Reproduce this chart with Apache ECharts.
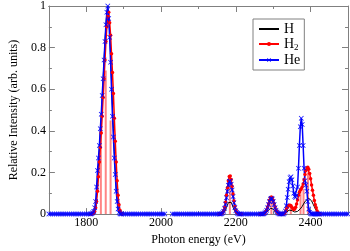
<!DOCTYPE html>
<html>
<head>
<meta charset="utf-8">
<script src="https://cdn.jsdelivr.net/npm/echarts@6/dist/echarts.min.js"></script>
<style>
html,body{margin:0;padding:0;background:#fff;}
#chart{width:350px;height:251px;}
</style>
</head>
<body>
<div id="chart"></div>
<script>
// ---- energies (eV) ----
const energyBaseA = [1700,1705,1710,1715,1720,1725,1730,1735,1740,1745,1750,1755,1760,1765,1770,1775,1780,1785,1790,1795,1800,1805,1810];
const energyMain = [1812.5,1815,1817.5,1820,1822.5,1825,1827.5,1830,1832.5,1835,1837.5,1840,1842.5,1845,1847.5,1850,1852.5,1855,1857.5,1860,1862.5,1865,1867.5,1870,1872.5,1875,1877.5,1880,1882.5,1885,1887.5,1890,1892.5,1895];
const energyBaseB = [1900,1905,1910,1915,1920,1925,1930,1935,1940,1945,1950,1955,1960,1965,1970,1975,1980,1985,1990,1995,2000,2005,2010];
const energyBaseC = [2030,2035,2040,2045,2050,2055,2060,2065,2070,2075,2080,2085,2090,2095,2100,2105,2110,2115,2120,2125,2130,2135,2140,2145,2150];
const energyP2 = [2155,2157.5,2160,2162.5,2165,2167.5,2170,2172.5,2175,2177.5,2180,2182.5,2185,2187.5,2190,2192.5,2195,2197.5,2200,2202.5,2205,2207.5,2210,2212.5,2215];
const energyBaseD = [2220,2225,2230,2235,2240,2245,2250,2255,2260];
const energyP3 = [2265,2267.5,2270,2272.5,2275,2277.5,2280,2282.5,2285,2287.5,2290,2292.5,2295,2297.5,2300,2302.5,2305,2307.5,2310,2312.5,2315,2317.5,2320,2322.5,2325];
const energyP4 = [2327.5,2330,2332.5,2335,2337.5,2340,2342.5,2345,2347.5,2350,2352.5,2355,2357.5,2360,2362.5,2365,2367.5,2370,2372.5,2375,2377.5,2380,2382.5,2385,2387.5,2390,2392.5,2395,2397.5,2400,2402.5,2405,2407.5,2410,2412.5,2415,2417.5,2420,2422.5,2425];
const energyBaseE = [2430,2435,2440,2445,2450,2455,2460,2465,2470,2475,2480,2485,2490,2495,2500];

// ---- H (black) ----
const hMain = [0,0.001,0.002,0.006,0.015,0.035,0.08,0.15,0.23,0.31,0.39,0.47,0.56,0.65,0.74,0.83,0.91,0.97,1.0,0.95,0.87,0.76,0.64,0.52,0.41,0.3,0.21,0.13,0.07,0.035,0.012,0.003,0,0];
const hP2 = [0,0,0,0.001,0.003,0.006,0.011,0.019,0.031,0.043,0.055,0.062,0.062,0.057,0.046,0.033,0.021,0.012,0.006,0.003,0.001,0,0,0,0];
const hP3 = [0,0,0,0,0.001,0.002,0.004,0.007,0.012,0.018,0.024,0.028,0.03,0.028,0.024,0.018,0.012,0.007,0.004,0.002,0.001,0,0,0,0];
const hP4 = [0,0.002,0.004,0.008,0.012,0.015,0.019,0.021,0.02,0.017,0.013,0.011,0.01,0.01,0.011,0.013,0.016,0.02,0.025,0.03,0.037,0.045,0.053,0.06,0.066,0.071,0.074,0.076,0.075,0.071,0.064,0.055,0.045,0.035,0.026,0.018,0.011,0.006,0.003,0.001];

// ---- H2 (red) ----
const h2Main = [0,0.001,0.003,0.006,0.012,0.03,0.06,0.11,0.18,0.25,0.32,0.39,0.47,0.56,0.65,0.74,0.83,0.9,0.95,0.97,0.92,0.86,0.77,0.68,0.58,0.46,0.35,0.25,0.16,0.09,0.045,0.018,0.006,0.001];
const h2P2 = [0,0,0.001,0.003,0.007,0.016,0.032,0.057,0.09,0.127,0.16,0.181,0.183,0.166,0.134,0.097,0.063,0.037,0.019,0.009,0.004,0.001,0,0,0];
const h2P3 = [0,0,0,0.001,0.002,0.005,0.011,0.02,0.034,0.05,0.066,0.078,0.082,0.078,0.066,0.05,0.034,0.02,0.011,0.005,0.002,0.001,0,0,0];
const h2P4 = [0.001,0.003,0.01,0.02,0.03,0.038,0.042,0.043,0.04,0.033,0.026,0.022,0.024,0.033,0.048,0.068,0.09,0.105,0.115,0.122,0.13,0.145,0.165,0.19,0.21,0.222,0.225,0.215,0.195,0.17,0.14,0.115,0.09,0.065,0.045,0.03,0.015,0.006,0.002,0];

// ---- He (blue) ----
const heBaseA = [0,0,0,0,0,0,0,0,0,0,0,0,0,0,0,0,0,0,0,0,0,0,0];
const heMain = [0.001,0.003,0.006,0.012,0.03,0.06,0.13,0.21,0.27,0.33,0.41,0.48,0.57,0.65,0.74,0.83,0.91,0.97,1.0,0.94,0.85,0.73,0.6,0.47,0.37,0.27,0.19,0.11,0.06,0.025,0.008,0.002,0,0];
const heBaseB = [0,0,0,0,0,0,0,0,0,0,0,0,0,0,0,0,0,0,0,0,0,0,0];
const heBaseC = [0,0,0,0,0,0,0,0,0,0,0,0,0,0,0,0,0,0,0,0,0,0,0,0,0];
const heP2 = [0,0,0.001,0.003,0.006,0.014,0.028,0.049,0.078,0.11,0.139,0.157,0.159,0.144,0.116,0.084,0.055,0.032,0.016,0.008,0.003,0.001,0,0,0];
const heBaseD = [0,0,0,0,0,0,0,0,0];
const heP3 = [0,0,0,0.001,0.002,0.005,0.01,0.019,0.031,0.046,0.061,0.072,0.076,0.072,0.061,0.046,0.031,0.019,0.01,0.005,0.002,0.001,0,0,0];
const heP4 = [0.001,0.005,0.015,0.04,0.08,0.12,0.155,0.175,0.18,0.165,0.135,0.1,0.085,0.08,0.09,0.13,0.22,0.33,0.42,0.46,0.43,0.33,0.22,0.16,0.14,0.11,0.06,0.025,0.008,0.002,0,0,0,0,0,0,0,0,0,0];
const heBaseE = [0,0,0,0,0,0,0,0,0,0,0,0,0,0,0];

// ---- H2 stick spectrum ----
const stickEnergy = [1839,1852,1865,2184,2295,2347,2373,2381,2393];
const stickHeight = [0.42,0.69,0.45,0.15,0.07,0.035,0.1,0.12,0.2];

// ---- axis ticks ----
const xMajorTicks = [1800,2000,2200,2400];
const xMinorTicks = [1900,2100,2300];

const GAP = ['-','-'];
function seg(xs, ys){ return xs.map((x,i)=>[x, ys[i]]); }

const hData = [].concat(seg(energyMain,hMain),[GAP],seg(energyP2,hP2),[GAP],seg(energyP3,hP3),seg(energyP4,hP4));
const h2Data = [].concat(seg(energyMain,h2Main),[GAP],seg(energyP2,h2P2),[GAP],seg(energyP3,h2P3),seg(energyP4,h2P4));
const heData = [].concat(seg(energyBaseA,heBaseA),seg(energyMain,heMain),seg(energyBaseB,heBaseB),[GAP],
  seg(energyBaseC,heBaseC),seg(energyP2,heP2),seg(energyBaseD,heBaseD),seg(energyP3,heP3),seg(energyP4,heP4),seg(energyBaseE,heBaseE));
const stickData = seg(stickEnergy, stickHeight);

const FONT = 'Liberation Serif';
const AX = '#808080';

function xAx(pos, ticks, len, labels, extra){
  return Object.assign({
    type:'value', min:1700, max:2500, position:pos,
    axisLine:{show:true, onZero:false, lineStyle:{color:AX, width:1}},
    axisTick:{show:true, inside:true, length:len, customValues:ticks, lineStyle:{color:AX}},
    axisLabel:{show:labels, customValues:ticks, color:'#000', fontFamily:FONT, fontSize:12, margin:3,
      formatter:function(v){ return String(v); }},
    splitLine:{show:false}
  }, extra||{});
}
function yAx(pos, labels, extra){
  return Object.assign({
    type:'value', min:0, max:1, interval:0.2, position:pos,
    axisLine:{show:true, lineStyle:{color:AX, width:1}},
    axisTick:{show:true, inside:true, length:6, lineStyle:{color:AX}},
    minorTick:{show:true, splitNumber:2, length:3, lineStyle:{color:AX}},
    axisLabel:{show:labels, color:'#000', fontFamily:FONT, fontSize:12, margin:3},
    splitLine:{show:false}
  }, extra||{});
}

const xSym = 'path://M0,1L1,0L5,4L9,0L10,1L6,5L10,9L9,10L5,6L1,10L0,9L4,5Z';

const chart = echarts.init(document.getElementById('chart'), null, {renderer:'canvas'});
chart.setOption({
  animation:false,
  backgroundColor:'#fff',
  grid:{left:31, right:2, top:4, bottom:25},
  xAxis:[
    xAx('bottom', xMajorTicks, 6, true, {name:'Photon energy (eV)', nameLocation:'middle', nameGap:19,
      nameTextStyle:{color:'#000', fontFamily:FONT, fontSize:12}}),
    xAx('bottom', xMinorTicks, 3, false),
    xAx('top', xMajorTicks, 6, false),
    xAx('top', xMinorTicks, 3, false)
  ],
  yAxis:[
    yAx('left', true, {name:'Relative Intensity (arb. units)', nameLocation:'middle', nameGap:22,
      nameTextStyle:{color:'#000', fontFamily:FONT, fontSize:12}}),
    yAx('right', false)
  ],
  legend:{
    data:[{name:'H', itemStyle:{opacity:0}}, 'H2', 'He'], orient:'vertical', left:253, top:19,
    backgroundColor:'#fff', borderColor:'#808080', borderWidth:1, borderRadius:0,
    padding:[3,4,3,5], itemGap:1, itemWidth:20, itemHeight:5,
    formatter:function(n){ return n==='H2' ? '{b|H}{s|2}' : '{b|'+n+'}'; },
    textStyle:{color:'#000', fontFamily:FONT, fontSize:14,
      rich:{b:{fontSize:14, fontFamily:FONT, color:'#000'}, s:{fontSize:9, fontFamily:FONT, color:'#000', verticalAlign:'bottom', padding:[7,0,0,0]}}}
  },
  series:[
    {type:'bar', name:'sticks', xAxisIndex:0, yAxisIndex:0, data:stickData, barWidth:2,
      itemStyle:{color:'rgba(255,80,80,0.7)'}, silent:true},
    {type:'line', name:'H', xAxisIndex:0, yAxisIndex:0, data:hData, connectNulls:false,
      symbol:'none', color:'#000',
      lineStyle:{color:'#000', width:1}},
    {type:'line', name:'H2', xAxisIndex:0, yAxisIndex:0, data:h2Data, connectNulls:false,
      symbol:'circle', symbolSize:3.5, showAllSymbol:true, color:'#ff0000',
      lineStyle:{color:'#ff0000', width:1.5}, itemStyle:{color:'#ff0000'}},
    {type:'line', name:'He', xAxisIndex:0, yAxisIndex:0, data:heData, connectNulls:false,
      symbol:xSym, symbolSize:5, showAllSymbol:true, color:'#0000ff',
      lineStyle:{color:'#0000ff', width:1.5}, itemStyle:{color:'#0000ff'}}
  ]
});
</script>
</body>
</html>
